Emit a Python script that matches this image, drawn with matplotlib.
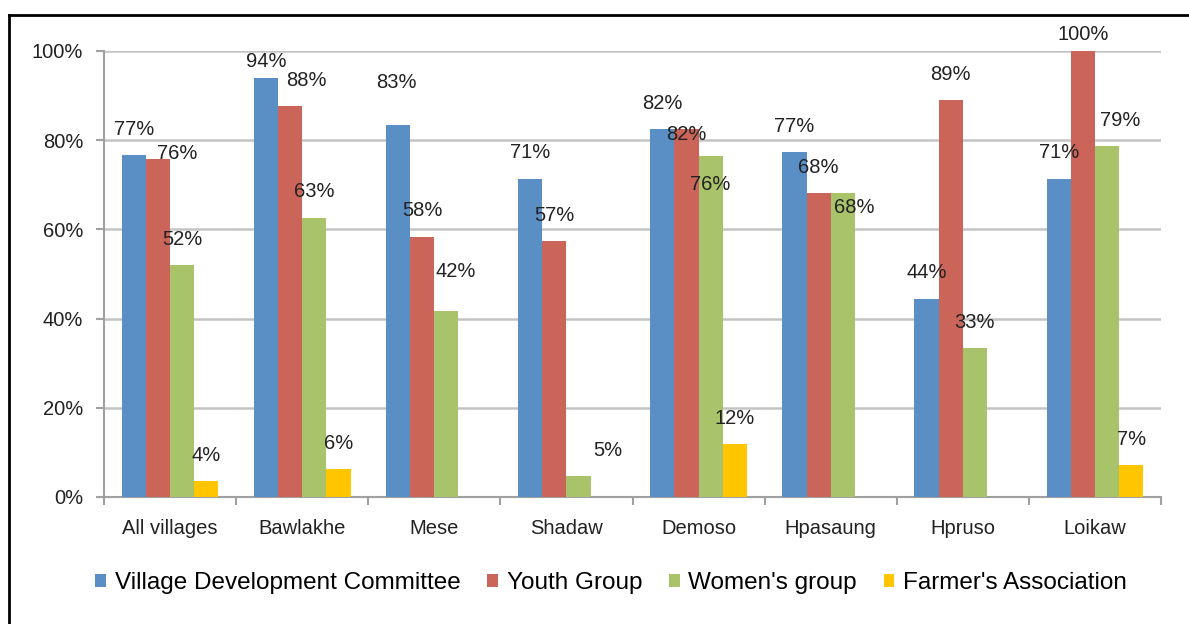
import matplotlib.pyplot as plt
import numpy as np
from matplotlib.lines import Line2D

plt.rcParams['font.family'] = ['Liberation Sans', 'DejaVu Sans']

villages = ['All villages', 'Bawlakhe', 'Mese', 'Shadaw', 'Demoso', 'Hpasaung', 'Hpruso', 'Loikaw']
series = ['Village Development Committee', 'Youth Group', "Women's group", "Farmer's Association"]
vdc = [76.6, 94.0, 83.4, 71.4, 82.4, 77.3, 44.4, 71.4]
youth = [75.7, 87.6, 58.4, 57.3, 82.4, 68.1, 89.0, 100.0]
women = [52.0, 62.6, 41.6, 4.6, 76.4, 68.1, 33.3, 78.6]
farmers = [3.5, 6.2, np.nan, np.nan, 11.8, np.nan, np.nan, 7.1]
colors = ['#5A8FC6', '#CB655A', '#A9C36A', '#FFC600']

# manual label nudges (dx, dy in pixels, dy positive = down), like the hand-moved Excel labels
nudges = {
    (0, 1): (19, 20),
    (1, 0): (0, 10), (1, 1): (16, 0),
    (2, 0): (-2, -17), (2, 2): (9, -14),
    (3, 2): (29, 0),
    (4, 1): (0, 31), (4, 2): (0, 54),
    (5, 2): (11, 40),
    (7, 1): (0, 10), (7, 2): (13, 0),
}

fig = plt.figure(figsize=(11.89, 6.24), dpi=100)
ax = fig.add_axes([104/1189, 1 - 497/624, (1161 - 104)/1189, (497 - 51)/624])

x = np.arange(len(villages))
width = 0.183
px = 0.72  # points per pixel at 100 dpi

for s, (name, vals, col) in enumerate(zip(series, [vdc, youth, women, farmers], colors)):
    pos = x + (s - 1.5) * width
    ax.bar(pos, vals, width, color=col, label=name, zorder=3)
    for g, v in enumerate(vals):
        if np.isnan(v):
            continue
        dx, dy = nudges.get((g, s), (0, 0))
        ax.annotate(f'{int(v + 0.5)}%', xy=(pos[g], v),
                    xytext=(dx * px, (26 - dy) * px), textcoords='offset points',
                    ha='center', va='center', fontsize=14.5, color='#222222',
                    annotation_clip=False, zorder=5)

ax.set_xlim(-0.5, len(villages) - 0.5)
ax.set_ylim(0, 100)
ax.set_yticks(np.arange(0, 101, 20))
ax.set_yticklabels([f'{t}%' for t in range(0, 101, 20)], fontsize=14.5, color='#222222')
ax.set_xticks(x)
ax.set_xticklabels(villages, fontsize=14.5, color='#222222')
ax.set_xticks(np.arange(-0.5, len(villages)), minor=True)
ax.tick_params(axis='x', which='major', length=0, pad=16)
ax.tick_params(axis='x', which='minor', length=6, color='#A0A0A0', width=1.5)
ax.tick_params(axis='y', length=6, color='#A0A0A0', width=1.5, pad=9)
ax.grid(axis='y', color='#C4C4C4', linewidth=1.8, zorder=0)
ax.set_axisbelow(True)
for side in ['top', 'right']:
    ax.spines[side].set_visible(False)
for side in ['left', 'bottom']:
    ax.spines[side].set_color('#A0A0A0')
    ax.spines[side].set_linewidth(1.5)

ax.legend(loc='center', bbox_to_anchor=(611/1189, 1 - 583/624), bbox_transform=fig.transFigure,
          ncol=4, frameon=False, fontsize=17.5, handlelength=0.45, handleheight=0.45,
          handletextpad=0.35, columnspacing=1.1, borderaxespad=0)

# outer frame of the original figure (runs off the right and bottom edge)
fig.add_artist(Line2D([9/1189, 9/1189], [0, 1 - 15/624], transform=fig.transFigure, color='black', linewidth=2))
fig.add_artist(Line2D([9/1189, 1], [1 - 15/624, 1 - 15/624], transform=fig.transFigure, color='black', linewidth=2))

fig.savefig('out.png', dpi=100)
